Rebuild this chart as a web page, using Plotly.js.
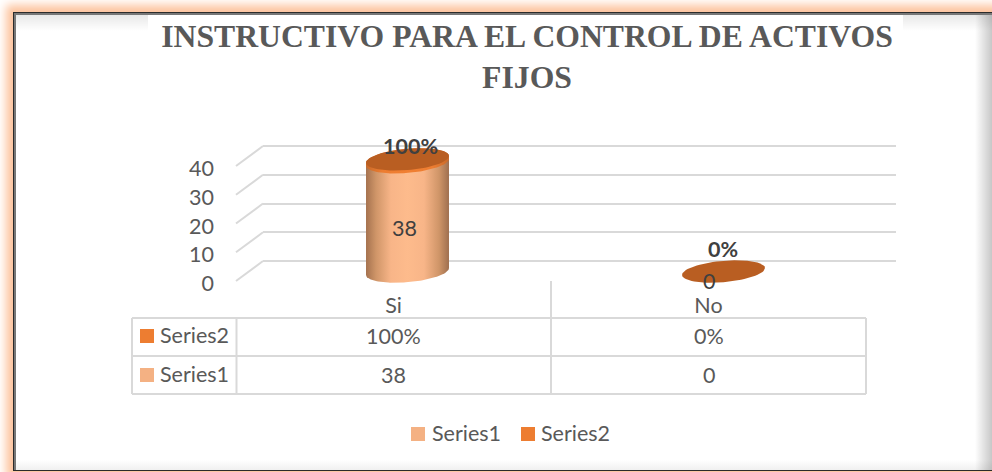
<!DOCTYPE html>
<html><head><meta charset="utf-8">
<script src="https://cdn.plot.ly/plotly-3.0.1.min.js"></script>
<style>
html,body{margin:0;padding:0;width:992px;height:472px;overflow:hidden;background:#fff}
#bg{position:absolute;left:0;top:0;width:992px;height:472px;background:#fff;overflow:hidden}
#frame{position:absolute;left:13px;top:12px;width:1100px;height:456px;background:#fff;border-top:1px solid #2b2b2b;border-left:1px solid #2b2b2b;border-bottom:2px solid #2b2b2b;box-shadow:0 0 9px 7px #fdc39d}
#inner{position:absolute;left:14px;top:13px;width:978px;height:457px;box-sizing:border-box;border-top:2px solid #777;border-left:2px solid #777;
 background:
  linear-gradient(to bottom,rgba(0,0,0,.09),rgba(0,0,0,0) 16px),
  linear-gradient(to left,rgba(0,0,0,.22),rgba(0,0,0,0) 17px),
  linear-gradient(to top,rgba(0,0,0,.06),rgba(0,0,0,0) 10px),#fff}
#tz{position:absolute;left:148px;top:15px;width:755px;height:40px;background:#fff}
#chart{position:absolute;left:0;top:0;width:992px;height:472px}
</style></head><body>
<div id="bg"><div id="frame"></div><div id="inner"></div><div id="tz"></div></div>
<div id="chart"></div>
<script>
var titleText = 'INSTRUCTIVO PARA EL CONTROL DE ACTIVOS<br>FIJOS';
var categories = ['Si', 'No'];
var series1 = [38, 0];
var series2 = [1, 0];
var series2Labels = ['100%', '0%'];
var yTicks = [0, 10, 20, 30, 40];
var seriesNames = ['Series1', 'Series2'];
var W = 992, H = 472;
function fx(p){return p/W;}
function fy(p){return 1-p/H;}
var grid = '#d9d9d9', txt = '#595959', dark = '#404040';
var c1 = '#f4b183', c2 = '#ed7d31', topC = '#b95e22';
var font = 'Lato, "Open Sans", sans-serif';
var fs = 21.5;

var traces = [];
traces.push({type:'scatter',x:[0],y:[0],xaxis:'x',yaxis:'y',mode:'none',showlegend:false,hoverinfo:'skip'});
traces.push({type:'scatter',x:[0],y:[0],xaxis:'x2',yaxis:'y2',mode:'none',showlegend:false,hoverinfo:'skip'});
traces.push({type:'scatter',x:[0],y:[0],xaxis:'x4',yaxis:'y4',mode:'none',showlegend:false,hoverinfo:'skip'});
traces.push({type:'bar', x:[0,1], y:series1, name:seriesNames[0], width:0.2, marker:{color:c1}, xaxis:'x3', yaxis:'y3', hoverinfo:'skip', showlegend:false});
traces.push({type:'bar', x:[0,1], y:series2, name:seriesNames[1], width:0.2, marker:{color:c2}, xaxis:'x3', yaxis:'y3', hoverinfo:'skip', showlegend:false});

var rx = 0.1313, ry = 3.72, sk = 1.18, N = 72;
function arc(cx, cy, t0, t1){
  var xs=[], ys=[];
  for(var i=0;i<=N;i++){
    var t=t0+(t1-t0)*i/N;
    xs.push(cx+rx*Math.cos(t));
    ys.push(cy+ry*Math.sin(t)+sk*Math.cos(t));
  }
  return [xs,ys];
}
function cyl(cx, y0, y1, stops){
  var a=arc(cx,y0,Math.PI,2*Math.PI), b=arc(cx,y1,0,Math.PI);
  traces.push({type:'scatter', mode:'lines', x:a[0].concat(b[0]), y:a[1].concat(b[1]), fill:'toself',
    line:{width:0,color:'rgba(0,0,0,0)'}, fillcolor:stops[2][1], fillgradient:{type:'horizontal', colorscale:stops},
    showlegend:false, hoverinfo:'skip', xaxis:'x3', yaxis:'y3'});
}
var body = [[0,'#a5724f'],[0.12,'#cf9568'],[0.3,'#f8b588'],[0.5,'#fdbb8c'],[0.7,'#f8b588'],[0.88,'#cf9568'],[1,'#9f6f4f']];
var rim = [[0,'#c96a2a'],[0.2,'#ed7d31'],[0.5,'#f07f32'],[0.8,'#ed7d31'],[1,'#c96a2a']];
categories.forEach(function(c,i){
  if(series1[i]>0) cyl(i,0,series1[i],body);
  if(series2[i]>0) cyl(i,series1[i],series1[i]+series2[i],rim);
  var a=arc(i,series1[i]+series2[i],0,2*Math.PI);
  traces.push({type:'scatter',mode:'lines',x:a[0],y:a[1],fill:'toself',line:{width:0,color:'rgba(0,0,0,0)'},fillcolor:topC,
    showlegend:false,hoverinfo:'skip',xaxis:'x3',yaxis:'y3'});
});

var shapes = [];
function seg(x0,y0,x1,y1,w){shapes.push({type:'line',xref:'paper',yref:'paper',x0:fx(x0),y0:fy(y0),x1:fx(x1),y1:fy(y1),line:{color:grid,width:w||1.5},layer:'below'});}
yTicks.forEach(function(v){
  var f=281-v*2.875;
  seg(236,f,263,f-20,2);
});
var rows=[318,356,394], cols=[236.5,551,866];
rows.forEach(function(r){seg(132,r,866,r,2);});
seg(132,318,132,394,2);
cols.forEach(function(c){seg(c,318,c,394,2);});

var ann = [];
function label(t,xi,yv){
  ann.push({text:t,x:xi,y:yv,xref:'x',yref:'paper',showarrow:false,xanchor:'center',yanchor:'middle',font:{family:font,size:fs,color:txt}});
}
categories.forEach(function(c,i){
  label(series2Labels[i],i,fy(336));
  label(String(series1[i]),i,fy(374.5));
});
function head(n,color,sx,tx,y){
  ann.push({text:n,xref:'paper',yref:'paper',x:fx(tx),y:fy(y-1),xanchor:'left',yanchor:'middle',showarrow:false,font:{family:font,size:fs,color:txt}});
  shapes.push({type:'rect',xref:'paper',yref:'paper',x0:fx(sx),x1:fx(sx+14),y0:fy(y-7),y1:fy(y+7),fillcolor:color,line:{width:0}});
}
head(seriesNames[1],c2,140,158,336);
head(seriesNames[0],c1,140,158,375);
head(seriesNames[0],c1,411,430,434);
head(seriesNames[1],c2,521,539,434);
ann.push({text:String(series1[0]),x:0,y:series1[0]/2,xref:'x3',yref:'y3',yshift:-11,xshift:-3,showarrow:false,font:{family:font,size:fs,color:dark}});
ann.push({text:'<b>'+series2Labels[0]+'</b>',x:0,y:series1[0]+series2[0],xref:'x3',yref:'y3',yshift:13,xshift:3,showarrow:false,font:{family:font,size:fs,color:dark}});
ann.push({text:'<b>'+series2Labels[1]+'</b>',x:1,y:series1[1]+series2[1],xref:'x3',yref:'y3',yshift:22,xshift:-1,showarrow:false,font:{family:font,size:fs,color:dark}});
ann.push({text:String(series1[1]),x:1,y:series1[1],xref:'x3',yref:'y3',yshift:-10,xshift:-15,showarrow:false,font:{family:font,size:fs,color:dark}});

var layout = {
  width:W, height:H, margin:{l:0,r:0,t:0,b:0}, paper_bgcolor:'rgba(0,0,0,0)', plot_bgcolor:'rgba(0,0,0,0)',
  barmode:'stack', showlegend:false,
  title:{text:titleText, x:527/W, xanchor:'center', y:1-47/H, yanchor:'top', font:{family:'"Liberation Serif", serif', size:31.7, color:txt, weight:700}},
  xaxis:{domain:[fx(236),fx(866)],range:[-0.5,1.5],tickmode:'array',tickvals:[0,1],ticktext:categories,anchor:'y',
    ticklabelposition:'inside',ticks:'',showgrid:false,zeroline:false,showline:false,tickfont:{family:font,size:fs,color:txt},
    minor:{tickmode:'array',tickvals:[-0.5,0.5,1.5],showgrid:true,gridcolor:grid,gridwidth:2,ticks:''}},
  yaxis:{domain:[fy(320),fy(281)],range:[0,1],showticklabels:false,showgrid:false,zeroline:false,anchor:'x'},
  xaxis2:{domain:[fx(263),fx(896)],range:[0,1],showticklabels:false,showgrid:false,zeroline:false,anchor:'y2'},
  yaxis2:{domain:[fy(261+5.75),fy(146-5.75)],range:[-2,42],tickmode:'array',tickvals:yTicks,showticklabels:false,showgrid:true,gridcolor:grid,gridwidth:2,zeroline:false,anchor:'x2'},
  xaxis3:{domain:[fx(249.5),fx(881.5)],range:[-0.5,1.5],visible:false,anchor:'y3'},
  yaxis3:{domain:[fy(271.5+28.75),fy(271.5-143.75)],range:[-10,50],visible:false,anchor:'x3'},
  xaxis4:{domain:[fx(236),fx(866)],range:[0,1],visible:false,anchor:'y4'},
  yaxis4:{domain:[fy(283.5),fy(168.5)],range:[0,40],tickmode:'array',tickvals:yTicks,anchor:'x4',side:'left',
    showgrid:false,zeroline:false,ticks:'',ticklabelstandoff:21,tickfont:{family:font,size:fs,color:txt}},
  shapes:shapes, annotations:ann
};
Plotly.newPlot('chart',traces,layout,{displayModeBar:false,staticPlot:true});
</script></body></html>
